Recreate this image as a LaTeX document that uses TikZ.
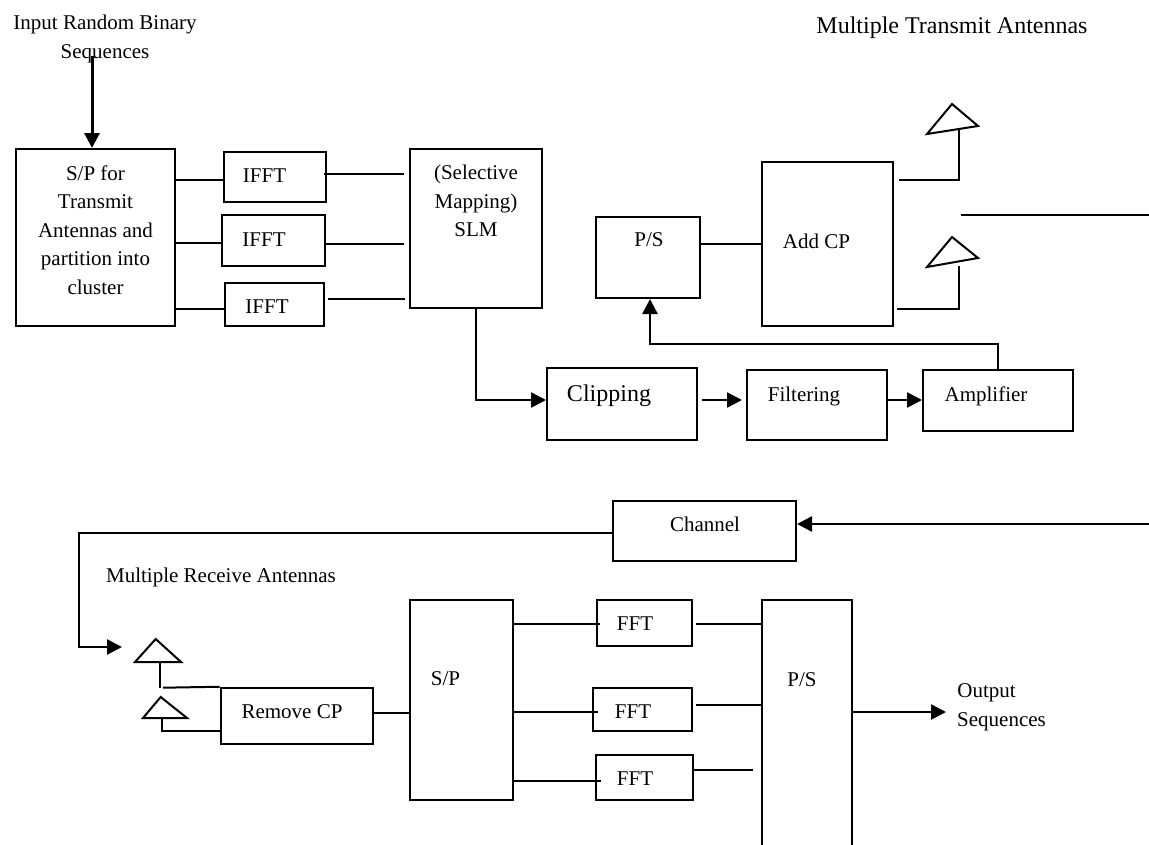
\documentclass[tikz,border=0pt]{standalone}
\usepackage{fontspec}
\setmainfont{Liberation Serif}
\usetikzlibrary{positioning, arrows.meta}
\tikzset{
  % Box without text
  block/.style={
    rectangle, draw=black, line width=2pt, fill=none, inner sep=0pt
  },
  % Box label
  lab/.style={font=\fontsize{21}{28.5}\selectfont, align=center, inner sep=0pt},
  biglab/.style={lab, font=\fontsize{24}{28.5}\selectfont},
  % Plain line
  wire/.style={line width=2pt, color=black},
  % Arrow style
  arr/.style={-{Triangle[length=15pt,width=15pt]}, line width=2.6pt, color=black},
}
\begin{document}
\begin{tikzpicture}[x=1pt, y=-1pt]
  \useasboundingbox (0,0) rectangle (1149,844);
  % Transmit side
  \node[block, minimum width=159pt, minimum height=177pt] (sptx) at (95.5,237.5) {};
  \node[lab] (sptxt) at (95.5,230) {S/P for\\Transmit\\Antennas and\\partition into\\cluster};
  \node[block, minimum width=102pt, minimum height=50pt] (iffta) at (274.5,177) {};
  \node[lab] (ifftatxt) at (264.5,176) {IFFT};
  \node[block, minimum width=103pt, minimum height=51pt] (ifftb) at (273.5,240.5) {};
  \node[lab] (ifftbtxt) at (264,240) {IFFT};
  \node[block, minimum width=99pt, minimum height=43pt] (ifftc) at (274.5,304.2) {};
  \node[lab] (ifftctxt) at (267,307) {IFFT};
  \node[block, minimum width=132pt, minimum height=159pt] (slm) at (476,228.5) {};
  \node[lab] (slmtxt) at (476,201) {(Selective\\Mapping)\\SLM};
  \node[block, minimum width=104pt, minimum height=81pt] (pstx) at (648,257.5) {};
  \node[lab] (pstxt) at (649,240) {P/S};
  \node[block, minimum width=131pt, minimum height=164pt] (addcp) at (827.5,244) {};
  \node[lab] (addtxt) at (816.5,241.5) {Add CP};
  \node[block, minimum width=150pt, minimum height=72pt] (clip) at (622,403.5) {};
  \node[biglab] (cliptxt) at (609,396) {Clipping};
  \node[block, minimum width=140pt, minimum height=69.5pt] (filt) at (817,404.75) {};
  \node[lab] (filttxt) at (804,396) {Filtering};
  \node[block, minimum width=150pt, minimum height=61pt] (amp) at (998,400.5) {};
  \node[lab] (amptxt) at (986,396) {Amplifier};
  % Receive side
  \node[block, minimum width=183pt, minimum height=60.5pt] (chan) at (704.5,530.75) {};
  \node[lab] (chantxt) at (705,524) {Channel};
  \node[block, minimum width=152pt, minimum height=56.5pt] (rmcp) at (296.7,716) {};
  \node[lab] (rmtxt) at (292,712) {Remove CP};
  \node[block, minimum width=103pt, minimum height=199.5pt] (sprx) at (461.5,699.75) {};
  \node[lab] (sprxtxt) at (445.5,679) {S/P};
  \node[block, minimum width=95pt, minimum height=46pt] (ffta) at (644.5,623) {};
  \node[lab] (fftatxt) at (635,624) {FFT};
  \node[block, minimum width=99pt, minimum height=43.5pt] (fftb) at (642.5,709.5) {};
  \node[lab] (fftbtxt) at (633,712) {FFT};
  \node[block, minimum width=97pt, minimum height=45pt] (fftc) at (644,777) {};
  \node[lab] (fftctxt) at (635,779) {FFT};
  \node[block, minimum width=90pt, minimum height=260pt] (psrx) at (807,729.5) {};
  \node[lab] (psrxtxt) at (802,680) {P/S};
  % Free texts
  \node[lab] (intxt) at (105,39) {Input Random Binary\\Sequences};
  \node[biglab] (txtitle) at (952,28) {Multiple Transmit Antennas};
  \node[lab] (rxtitle) at (221,577) {Multiple Receive Antennas};
  \node[lab] (outa) at (986.5,693) {Output};
  \node[lab] (outb) at (1001.5,722) {Sequences};
  % Antennas
  \draw[wire] (927,134) -- (952,104) -- (978,126) -- cycle;
  \draw[wire] (927,267) -- (952,237) -- (978,258) -- cycle;
  \draw[wire] (135,662) -- (155.7,639) -- (181,662) -- cycle;
  \draw[wire] (143,718) -- (160.7,697) -- (187,718) -- cycle;
  \coordinate (anta) at (959,129);
  \coordinate (antb) at (959,266);
  \coordinate (antc) at (160,662);
  \coordinate (antd) at (162,718);
  \coordinate (instart) at (92,56);
  \coordinate (rxin) at (122,647);
  \coordinate (linea) at (961,215);
  \coordinate (lineb) at (1149,215);
  \coordinate (linec) at (1149,524);
  % Connectors
  \draw[arr, line width=3pt] (instart) -- (sptx.north -| instart);
  \draw[wire] (sptx.east |- 0,180) -- (iffta.west |- 0,180);
  \draw[wire] (sptx.east |- 0,243) -- (ifftb.west |- 0,243);
  \draw[wire] (sptx.east |- 0,309) -- (ifftc.west |- 0,309);
  \draw[wire, shorten <=-3pt, shorten >=5pt] (iffta.east |- 0,173.5) -- (slm.west |- 0,173.5);
  \draw[wire, shorten >=5pt] (ifftb.east |- 0,243.5) -- (slm.west |- 0,243.5);
  \draw[wire, shorten <=3pt, shorten >=4pt] (ifftc.east |- 0,299) -- (slm.west |- 0,299);
  \draw[arr] (slm.south) -- (476,400) -- (clip.west |- 0,400);
  \draw[arr, shorten <=4pt, shorten >=4pt] (clip.east |- 0,400) -- (filt.west |- 0,400);
  \draw[arr] (filt.east |- 0,400) -- (amp.west |- 0,400);
  \draw[arr] (amp.north) -- (998,344) -- (650,344) -- (pstx.south -| 650,0);
  \draw[wire] (pstx.east |- 0,244) -- (addcp.west |- 0,244);
  \draw[wire, shorten <=5pt] (addcp.east |- 0,180) -- (anta |- 0,180) -- (anta);
  \draw[wire, shorten <=3pt] (addcp.east |- 0,309) -- (antb |- 0,309) -- (antb);
  \draw[wire] (linea) -- (lineb);
  \draw[arr] (linec) -- (chan.east |- linec);
  \draw[arr] (chan.west |- 0,533) -- (79,533) -- (79,647) -- (rxin);
  \draw[wire] (antc) -- (160,687.7);
  \draw[wire] (163,687.7) -- (rmcp.north west);
  \draw[wire] (antd) -- (162,731) -- (rmcp.west |- 0,731);
  \draw[wire] (rmcp.east |- 0,713) -- (sprx.west |- 0,713);
  \draw[wire, shorten >=-4pt] (sprx.east |- 0,624) -- (ffta.west |- 0,624);
  \draw[wire, shorten >=-6pt] (sprx.east |- 0,712) -- (fftb.west |- 0,712);
  \draw[wire, shorten >=-6pt] (sprx.east |- 0,781) -- (fftc.west |- 0,781);
  \draw[wire, shorten <=3pt] (ffta.east |- 0,624) -- (psrx.west |- 0,624);
  \draw[wire, shorten <=3pt] (fftb.east |- 0,705) -- (psrx.west |- 0,705);
  \draw[wire, shorten >=8pt] (fftc.east |- 0,770) -- (psrx.west |- 0,770);
  \draw[arr] (psrx.east |- 0,712) -- (946,712);
\end{tikzpicture}
\end{document}
